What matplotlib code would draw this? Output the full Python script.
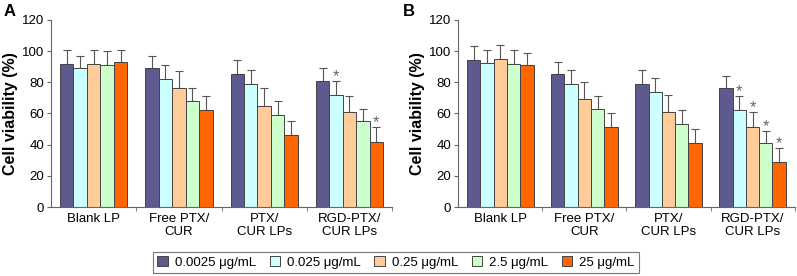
import numpy as np
import matplotlib
matplotlib.use('Agg')
import matplotlib.pyplot as plt
from matplotlib.ticker import FixedLocator, NullFormatter

plt.rcParams['font.family'] = ['Liberation Sans', 'DejaVu Sans']

groups = ['Blank LP', 'Free PTX/\nCUR', 'PTX/\nCUR LPs', 'RGD-PTX/\nCUR LPs']
conc = ['0.0025 μg/mL', '0.025 μg/mL', '0.25 μg/mL', '2.5 μg/mL', '25 μg/mL']
colors = ['#5c5a8e', '#ccffff', '#ffcc99', '#ccffcc', '#ff6600']

# rows = groups, cols = concentrations
mean_a = np.array([[92, 89, 92, 91, 93],
                   [89, 82, 76, 68, 62],
                   [85, 79, 65, 59, 46],
                   [81, 72, 61, 55, 42]])
err_a = np.array([[9, 8, 9, 9, 8],
                  [8, 9, 11, 8, 9],
                  [9, 9, 11, 9, 9],
                  [8, 9, 10, 8, 9]])
star_a = [(3, 1), (3, 4)]

mean_b = np.array([[94, 92.5, 95, 92, 91],
                   [85, 79, 69, 63, 51],
                   [79, 74, 61, 53, 41],
                   [76, 62, 51, 41, 29]])
err_b = np.array([[9, 8.5, 9, 9, 8],
                  [8, 9, 11, 8, 9],
                  [9, 9, 11, 9, 9],
                  [8, 9, 10, 8, 9]])
star_b = [(3, 1), (3, 2), (3, 3), (3, 4)]

fig = plt.figure(figsize=(7.97, 2.76), dpi=100)
axA = fig.add_axes([0.064, 0.25, 0.428, 0.678])
axB = fig.add_axes([0.575, 0.25, 0.422, 0.678])

w = 0.158
x = np.arange(len(groups))


def draw(ax, mean, err, stars):
    for j in range(len(conc)):
        pos = x + (j - 2) * w
        ax.bar(pos, mean[:, j], w, color=colors[j], edgecolor='#444444',
               linewidth=0.7, label=conc[j], zorder=2)
        ax.errorbar(pos, mean[:, j], yerr=[np.zeros(len(groups)), err[:, j]],
                    fmt='none', ecolor='#555555', elinewidth=0.8,
                    capsize=3, capthick=0.8, zorder=1)
    for g, j in stars:
        ax.text(x[g] + (j - 2) * w, mean[g, j] + err[g, j] - 2, '*',
                ha='center', va='bottom', fontsize=12, color='#666666')
    ax.set_xlim(-0.5, 3.5)
    ax.set_ylim(0, 120)
    ax.set_yticks(range(0, 121, 20))
    ax.set_xticks(x)
    ax.set_xticklabels(groups, fontsize=9.5, linespacing=1.2)
    ax.tick_params(axis='x', which='major', length=0, pad=4)
    ax.xaxis.set_minor_locator(FixedLocator([0.5, 1.5, 2.5, 3.5]))
    ax.xaxis.set_minor_formatter(NullFormatter())
    ax.tick_params(axis='x', which='minor', length=3, color='#666666')
    ax.tick_params(axis='y', labelsize=9.5, length=3, pad=2, color='#666666')
    for s in ['top', 'right']:
        ax.spines[s].set_visible(False)
    for s in ['left', 'bottom']:
        ax.spines[s].set_color('#666666')
    ax.set_ylabel('Cell viability (%)', fontsize=11.5, fontweight='bold', labelpad=3)


draw(axA, mean_a, err_a, star_a)
draw(axB, mean_b, err_b, star_b)

fig.text(0.004, 0.985, 'A', fontsize=12, fontweight='bold', ha='left', va='top')
fig.text(0.505, 0.985, 'B', fontsize=12, fontweight='bold', ha='left', va='top')

h, l = axA.get_legend_handles_labels()
leg = fig.legend(h, l, loc='center', bbox_to_anchor=(0.497, 0.049), ncol=5,
                 fontsize=9.5, frameon=True, fancybox=False, edgecolor='#555555',
                 handlelength=0.8, handleheight=0.8, handletextpad=0.55,
                 columnspacing=1.0, borderpad=0.35)
leg.get_frame().set_linewidth(0.8)

fig.savefig('out.png', dpi=100)
